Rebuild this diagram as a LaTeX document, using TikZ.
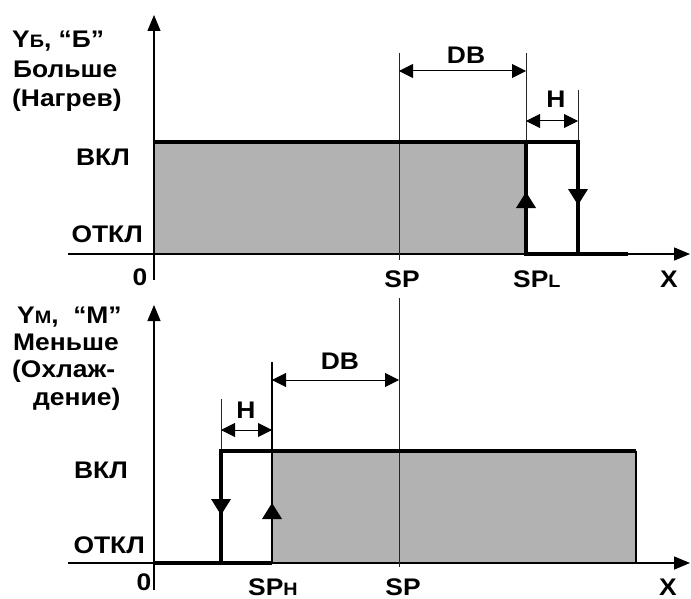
\documentclass[tikz,border=0pt]{standalone}
\usepackage{fontspec}
\setmainfont{Liberation Sans}[FakeStretch=1.1]
\usetikzlibrary{arrows.meta}

\newcommand{\smalltxt}[1]{{\fontsize{18}{20}\selectfont #1}}

\tikzset{
  axisline/.style={line width=1.5pt, -{Triangle[length=16pt,width=13pt]}},
  guide/.style={line width=1pt, black!85},
  relayline/.style={line width=4.8pt, line join=miter},
  dimline/.style={line width=1pt, {Triangle[length=14pt,width=14pt]}-{Triangle[length=14pt,width=14pt]}},
  flowtip/.style={-{Triangle[length=16pt,width=20pt,line width=0pt]}},
  onfill/.style={fill=black!30},
  lbl/.style={inner sep=0pt, font=\fontsize{24}{28}\selectfont\bfseries},
}

\begin{document}
\begin{tikzpicture}[x=1pt, y=-1pt]
    \useasboundingbox (0,0) rectangle (691,599);

    % ---- Upper chart: heating ----
    % Area where the output is on
    \fill[onfill] (154,142) rectangle (526,254);

    % Axes
    \draw[axisline] (68,254) -- (690,254);
    \draw[line width=1.2pt, -{Triangle[length=16pt,width=13pt]}] (154,280) -- (154,15);

    % Guide lines
    \draw[guide] (399,53) -- (399,260);
    \draw[guide] (526,53) -- (526,142);
    \draw[guide] (578,90) -- (578,142);

    % Relay curve with hysteresis
    \draw[relayline] (154,142) -- (578,142) -- (578,254);
    \draw[relayline] (526,142) -- (526,254) -- (628,254);
    \draw[line width=4.8pt, flowtip] (526,212) -- (526,192);
    \draw[line width=4.8pt, flowtip] (578,185) -- (578,205);

    % Dead band and hysteresis
    \draw[dimline] (399,71) -- (526,71);
    \draw[dimline] (526,121) -- (578,121);
    \node[lbl, anchor=base] (dbtop) at (466,64) {DB};
    \node[lbl, anchor=base] (htop) at (556,108) {H};

    % Labels
    \node[lbl, anchor=base west] (ytop) at (12,48) {Y\smalltxt{Б}, “Б”};
    \node[lbl, anchor=base west] (bigtop) at (13,78) {Больше};
    \node[lbl, anchor=base west] (heat) at (12,107) {(Нагрев)};
    \node[lbl, anchor=base east] (ontop) at (130,165) {ВКЛ};
    \node[lbl, anchor=base east] (offtop) at (143,242) {ОТКЛ};
    \node[lbl, anchor=base] (zerotop) at (140,285) {0};
    \node[lbl, anchor=base] (sptop) at (402,287) {SP};
    \node[lbl, anchor=base west] (spl) at (513,287) {SP\smalltxt{L}};
    \node[lbl, anchor=base] (xtop) at (669,287) {X};

    % ---- Lower chart: cooling ----
    % Area where the output is on
    \fill[onfill] (272,451) rectangle (636,563);
    \draw[line width=1.5pt] (636,451) -- (636,563);

    % Axes
    \draw[axisline] (68,563) -- (690,563);
    \draw[line width=1.2pt, -{Triangle[length=16pt,width=13pt]}] (154,590) -- (154,305);

    % Guide lines
    \draw[guide] (399,298) -- (399,567);
    \draw[guide] (221,399) -- (221,451);
    \draw[line width=1.5pt] (272,362) -- (272,563);

    % Relay curve with hysteresis
    \draw[relayline] (154,563) -- (272,563);
    \draw[relayline] (221,563) -- (221,451) -- (636,451);
    \draw[line width=4.8pt, flowtip] (221,495) -- (221,515);
    \draw[line width=1.5pt, flowtip] (272,522) -- (272,503);

    % Dead band and hysteresis
    \draw[dimline] (272,380) -- (399,380);
    \draw[dimline] (221,430) -- (272,430);
    \node[lbl, anchor=base] (dbbot) at (340,369) {DB};
    \node[lbl, anchor=base] (hbot) at (246,418) {H};

    % Labels
    \node[lbl, anchor=base west] (ybot) at (17,323) {Y\smalltxt{М},\ \ “М”};
    \node[lbl, anchor=base west] (smallbot) at (13,350) {Меньше};
    \node[lbl, anchor=base west] (cool) at (12,377) {(Охлаж-};
    \node[lbl, anchor=base west] (coolb) at (33,405) {дение)};
    \node[lbl, anchor=base east] (onbot) at (128,478) {ВКЛ};
    \node[lbl, anchor=base east] (offbot) at (145,553) {ОТКЛ};
    \node[lbl, anchor=base] (zerobot) at (144,590) {0};
    \node[lbl, anchor=base west] (sph) at (248,595) {SP\smalltxt{H}};
    \node[lbl, anchor=base] (spbot) at (403,595) {SP};
    \node[lbl, anchor=base] (xbot) at (668,595) {X};
\end{tikzpicture}
\end{document}
